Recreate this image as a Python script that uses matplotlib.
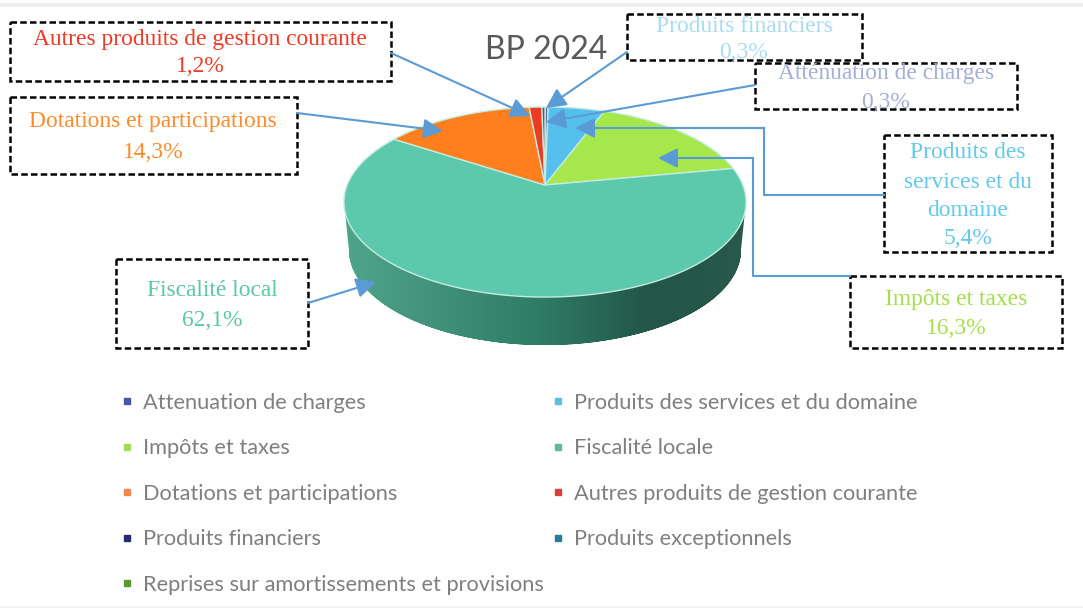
import numpy as np
import matplotlib
matplotlib.use('Agg')
import matplotlib.pyplot as plt
from matplotlib.lines import Line2D
from matplotlib.patches import Polygon, Rectangle

# valeurs du BP 2024 (sens horaire depuis midi)
slices = ['Attenuation de charges', 'Produits des services et du domaine', 'Impôts et taxes',
          'Fiscalité locale', 'Dotations et participations', 'Autres produits de gestion courante',
          'Produits financiers']
values = [0.3, 5.4, 16.3, 62.1, 14.3, 1.2, 0.3]
slice_colors = ['#5b6bb5', '#55c0ee', '#a6e84c', '#5cc8ac', '#ff7f1e', '#ee3a22', '#7a4a6a']

legend_col1 = ['Attenuation de charges', 'Impôts et taxes', 'Dotations et participations',
               'Produits financiers', 'Reprises sur amortissements et provisions']
legend_col1_colors = ['#4a55a8', '#a6d85c', '#f08a4a', '#2a2a70', '#5a9a30']
legend_col2 = ['Produits des services et du domaine', 'Fiscalité locale',
               'Autres produits de gestion courante', 'Produits exceptionnels']
legend_col2_colors = ['#5cc0e0', '#62b89c', '#d8413a', '#2a7a9a']

CX, CY = 545, 185
DEPTH = 48


def tilt(x, y):
    # cercle unité -> ellipse en perspective (pixels)
    p = 0.179
    return CX + 197.8 * x / (1 + p * y), CY - 92 * y / (1 + p * y)


fig = plt.figure(figsize=(10.83, 6.11), dpi=100)
ax = fig.add_axes([0, 0, 1, 1])

wedges, _ = ax.pie(values, startangle=90, counterclock=False)
angles = [(w.theta1, w.theta2) for w in wedges]
for w in wedges:
    w.remove()
ax.set_aspect('auto')
ax.set_xlim(0, 1083)
ax.set_ylim(611, 0)
ax.axis('off')

# bandes grises du cadre
ax.add_patch(Rectangle((0, 3), 1083, 4, color='#eeeeee', lw=0))
ax.add_patch(Rectangle((0, 606), 1083, 2, color='#f3f3f3', lw=0))

# tranche du camembert (dégradé découpé)
t = np.radians(np.linspace(0, 360, 400))
ex, ey = tilt(np.cos(t), np.sin(t))
low = np.radians(np.linspace(np.degrees(t[np.argmin(ex)]), np.degrees(t[np.argmax(ex)]) + 360, 200))
lx, ly = tilt(np.cos(low), np.sin(low))
bx = CX + (lx - CX) * 0.975
side = np.r_[np.c_[lx, ly], np.c_[bx[::-1], ly[::-1] + DEPTH]]
grad = matplotlib.colors.LinearSegmentedColormap.from_list(
    'side', ['#4fa58b', '#3f9078', '#2f7a64', '#235648', '#28594b'])
img = ax.imshow(np.linspace(0, 1, 256).reshape(1, -1), cmap=grad, aspect='auto',
                extent=(344, 748, 345, 190), zorder=2)
clip = Polygon(side, closed=True, transform=ax.transData, fc='none', ec='none')
ax.add_patch(clip)
img.set_clip_path(clip)
ax.set_xlim(0, 1083)
ax.set_ylim(611, 0)

# dessus du camembert
for (a1, a2), col in zip(angles, slice_colors):
    th = np.radians(np.linspace(a1, a2, 120))
    px, py = tilt(np.cos(th), np.sin(th))
    ax.add_patch(Polygon(np.c_[np.r_[CX, px], np.r_[CY, py]], closed=True, fc=col,
                         ec='#c4ebdd', lw=1.0, zorder=3))

ax.text(546, 50, 'BP 2024', ha='center', va='center', fontsize=23, color='#595959',
        family='Lato', zorder=5)

# étiquettes encadrées
boxes = [
    ((10, 22, 391, 81), ['Autres produits de gestion courante', '1,2%'], [37, 65], '#f03a24', 200),
    ((10, 97, 297, 174), ['Dotations et participations', '14,3%'], [120, 150], '#ff8a2a', 153),
    ((627, 14, 862, 60), ['Produits financiers', '0,3%'], [24, 51], '#a8dcf5', 744),
    ((755, 63, 1017, 109), ['Atténuation de charges', '0,3%'], [72, 100], '#a3aedb', 886),
    ((884, 135, 1052, 252), ['Produits des', 'services et du', 'domaine', '5,4%'],
     [151, 180, 208, 237], '#62c9f0', 968),
    ((850, 276, 1062, 348), ['Impôts et taxes', '16,3%'], [298, 326], '#a5e04a', 956),
    ((116, 259, 308, 348), ['Fiscalité local', '62,1%'], [289, 318], '#5bc8a8', 212),
]
for (x0, y0, x1, y1), lines, ys, col, xc in boxes:
    ax.add_patch(Rectangle((x0, y0), x1 - x0, y1 - y0, fc='none', ec='black', lw=1.8,
                           ls=(0, (2.6, 1.3)), zorder=4))
    for s, y in zip(lines, ys):
        ax.text(xc, y + 2, s, ha='center', va='center', fontsize=16.9, color=col,
                family='Liberation Serif', zorder=5)

# flèches
arrow_col = '#5b9bd5'
arrows = [
    [(391, 53), (530, 116)],
    [(297, 113), (443, 131)],
    [(627, 52), (546, 108)],
    [(755, 85), (546, 122)],
    [(884, 195), (764, 195), (764, 128), (575, 128)],
    [(850, 276), (753, 276), (753, 158), (658, 158)],
    [(308, 303), (376, 282)],
]
for pts in arrows:
    if len(pts) > 2:
        ax.plot([p[0] for p in pts[:-1]], [p[1] for p in pts[:-1]], color=arrow_col, lw=1.5, zorder=6)
    ax.annotate('', xy=pts[-1], xytext=pts[-2], zorder=6,
                arrowprops=dict(arrowstyle='-|>,head_length=0.75,head_width=0.38', color=arrow_col,
                                lw=1.5, shrinkA=0, shrinkB=0, mutation_scale=16))


# légende en deux colonnes
def squares(colors):
    return [Line2D([], [], ls='', marker='s', ms=4.5, color=c) for c in colors]


leg_style = dict(loc='upper left', frameon=False, labelspacing=1.17, handlelength=0.8,
                 handletextpad=0.3, labelcolor='#7f7f7f', prop={'family': 'Lato', 'size': 15.7})
leg1 = ax.legend(squares(legend_col1_colors), legend_col1,
                 bbox_to_anchor=(99 / 1083, 1 - 373 / 611), **leg_style)
ax.add_artist(leg1)
ax.legend(squares(legend_col2_colors), legend_col2,
          bbox_to_anchor=(530 / 1083, 1 - 373 / 611), **leg_style)

fig.savefig('out.png', dpi=100)
